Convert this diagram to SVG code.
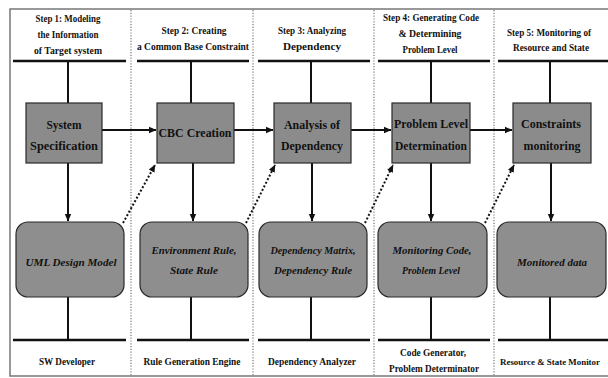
<svg xmlns="http://www.w3.org/2000/svg" width="608" height="378" viewBox="0 0 608 378">
<style>
text{font-family:'Liberation Serif','Times New Roman',serif;font-weight:bold;fill:#111;text-anchor:middle}
.h{font-size:11px}
.s{font-size:9px}
.b{font-size:13px}
.r{font-size:11px;font-style:italic}
.box{fill:#8b8b8b;stroke:#2a2a2a;stroke-width:1.2}
.rbox{fill:#8e8e8e;stroke:#2a2a2a;stroke-width:1.2}
.ln{stroke:#111;stroke-width:2;fill:none}
.bar{stroke:#111;stroke-width:2.4;fill:none}
.arr{stroke:#111;stroke-width:2;fill:none;marker-end:url(#ah)}
.dot{stroke:#111;stroke-width:2;stroke-dasharray:2,2;fill:none;marker-end:url(#ah)}
.div{stroke:#999;stroke-width:1.6;stroke-dasharray:1.2,1.6;fill:none}
</style>
<defs>
<marker id="ah" markerWidth="8" markerHeight="8" refX="7" refY="4" orient="auto" markerUnits="userSpaceOnUse">
<path d="M0,0.8 L7.5,4 L0,7.2 Z" fill="#111"/>
</marker>
</defs>
<rect x="0" y="0" width="608" height="378" fill="#fff"/>
<g id="frame">
<path d="M608,9 H10 V376 H608" fill="none" stroke="#777" stroke-width="1.5"/>
<path class="div" d="M131,10 V376 M253,10 V376 M374,10 V376 M494,10 V376"/>
<path class="bar" d="M13,61 H126 M137,61 H249 M258,61 H370 M378,61 H490 M498,61 H608"/>
<path class="bar" d="M13,340 H126 M137,340 H249 M258,340 H370 M378,340 H490 M498,340 H608"/>
</g>
<g id="headers">
<text class="h" x="68" y="22" textLength="65" lengthAdjust="spacingAndGlyphs">Step 1: Modeling</text>
<text class="h" x="68" y="38" textLength="61" lengthAdjust="spacingAndGlyphs">the Information</text>
<text class="h" x="68" y="54" textLength="68" lengthAdjust="spacingAndGlyphs">of Target system</text>
<text class="h" x="194" y="34" textLength="65" lengthAdjust="spacingAndGlyphs">Step 2: Creating</text>
<text class="h" x="193" y="50" textLength="112" lengthAdjust="spacingAndGlyphs">a Common Base Constraint</text>
<text class="h" x="312" y="34" textLength="68" lengthAdjust="spacingAndGlyphs">Step 3: Analyzing</text>
<text class="h" x="312" y="50" textLength="58" lengthAdjust="spacingAndGlyphs">Dependency</text>
<text class="h" x="431" y="21" textLength="96" lengthAdjust="spacingAndGlyphs">Step 4: Generating Code</text>
<text class="h" x="430" y="37" textLength="63" lengthAdjust="spacingAndGlyphs">&amp; Determining</text>
<text class="h" x="430" y="53" textLength="55" lengthAdjust="spacingAndGlyphs">Problem Level</text>
<text class="h" x="549" y="36" textLength="84" lengthAdjust="spacingAndGlyphs">Step 5: Monitoring  of</text>
<text class="h" x="551" y="51" textLength="76" lengthAdjust="spacingAndGlyphs">Resource and State</text>
</g>
<g id="connectors">
<path class="ln" d="M68,61 V103 M191,61 V103 M311,61 V103 M431,61 V103 M550,61 V103"/>
<path class="ln" d="M68,297 V340 M191,297 V340 M311,297 V340 M431,297 V340 M550,297 V340"/>
<path class="arr" d="M102,130 H156"/>
<path class="arr" d="M234,130 H273"/>
<path class="arr" d="M351,130 H391"/>
<path class="arr" d="M470,130 H512"/>
<path class="arr" d="M68,163 V221"/>
<path class="arr" d="M193,163 V221"/>
<path class="arr" d="M312,163 V221"/>
<path class="arr" d="M431,163 V221"/>
<path class="arr" d="M551,163 V221"/>
<path class="dot" d="M123,223 L155,165"/>
<path class="dot" d="M246,223 L275,165"/>
<path class="dot" d="M365,223 L393,165"/>
<path class="dot" d="M485,223 L514,165"/>
</g>
<g id="n1">
<rect class="box" x="26" y="103" width="76" height="60"/>
<text class="b" x="64" y="129" textLength="35" lengthAdjust="spacingAndGlyphs">System</text>
<text class="b" x="64" y="150" textLength="68" lengthAdjust="spacingAndGlyphs">Specification</text>
</g>
<g id="n2">
<rect class="box" x="157" y="103" width="77" height="60"/>
<text class="b" x="195" y="137" textLength="73" lengthAdjust="spacingAndGlyphs">CBC Creation</text>
</g>
<g id="n3">
<rect class="box" x="274" y="103" width="77" height="60"/>
<text class="b" x="312" y="129" textLength="56" lengthAdjust="spacingAndGlyphs">Analysis of</text>
<text class="b" x="312" y="150" textLength="62" lengthAdjust="spacingAndGlyphs">Dependency</text>
</g>
<g id="n4">
<rect class="box" x="392" y="103" width="78" height="60"/>
<text class="b" x="431" y="128" textLength="74" lengthAdjust="spacingAndGlyphs">Problem Level</text>
<text class="b" x="431" y="150" textLength="72" lengthAdjust="spacingAndGlyphs">Determination</text>
</g>
<g id="n5">
<rect class="box" x="513" y="103" width="78" height="60"/>
<text class="b" x="551" y="128" textLength="60" lengthAdjust="spacingAndGlyphs">Constraints</text>
<text class="b" x="552" y="150" textLength="57" lengthAdjust="spacingAndGlyphs">monitoring</text>
</g>
<g id="m1">
<rect class="rbox" x="16" y="222" width="108" height="75" rx="12"/>
<text class="r" x="71" y="266" textLength="91" lengthAdjust="spacingAndGlyphs">UML Design Model</text>
</g>
<g id="m2">
<rect class="rbox" x="140" y="222" width="108" height="75" rx="12"/>
<text class="r" x="194" y="254" textLength="85" lengthAdjust="spacingAndGlyphs">Environment Rule,</text>
<text class="r" x="194" y="274" textLength="48" lengthAdjust="spacingAndGlyphs">State Rule</text>
</g>
<g id="m3">
<rect class="rbox" x="259" y="222" width="108" height="75" rx="12"/>
<text class="r" x="313" y="254" textLength="85" lengthAdjust="spacingAndGlyphs">Dependency Matrix,</text>
<text class="r" x="313" y="274" textLength="78" lengthAdjust="spacingAndGlyphs">Dependency Rule</text>
</g>
<g id="m4">
<rect class="rbox" x="378" y="222" width="109" height="75" rx="12"/>
<text class="r" x="432" y="254" textLength="79" lengthAdjust="spacingAndGlyphs">Monitoring Code,</text>
<text class="r" x="431" y="274" textLength="58" lengthAdjust="spacingAndGlyphs">Problem Level</text>
</g>
<g id="m5">
<rect class="rbox" x="497" y="222" width="109" height="75" rx="12"/>
<text class="r" x="552" y="266" textLength="70" lengthAdjust="spacingAndGlyphs">Monitored data</text>
</g>
<g id="actors">
<text class="h" x="67" y="365" textLength="56" lengthAdjust="spacingAndGlyphs">SW Developer</text>
<text class="h" x="192" y="365" textLength="97" lengthAdjust="spacingAndGlyphs">Rule Generation Engine</text>
<text class="h" x="312" y="365" textLength="88" lengthAdjust="spacingAndGlyphs">Dependency Analyzer</text>
<text class="h" x="433" y="356" textLength="66" lengthAdjust="spacingAndGlyphs">Code Generator,</text>
<text class="h" x="434" y="372" textLength="90" lengthAdjust="spacingAndGlyphs">Problem Determinator</text>
<text class="s" x="550" y="365" textLength="100" lengthAdjust="spacingAndGlyphs">Resource &amp; State Monitor</text>
</g>
</svg>
